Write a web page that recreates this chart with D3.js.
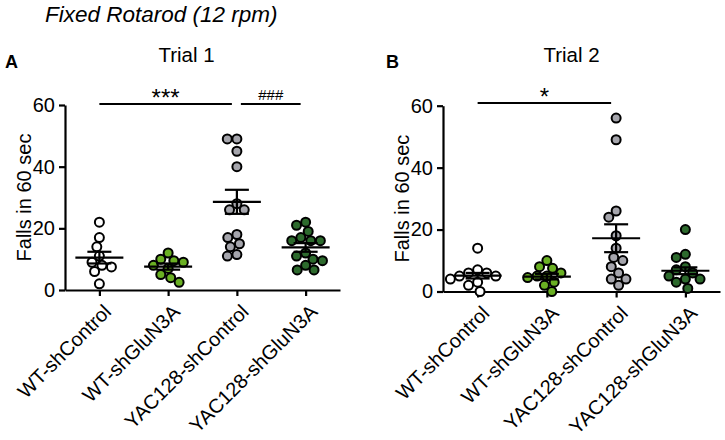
<!DOCTYPE html>
<html>
<head>
<meta charset="utf-8">
<script src="https://cdn.jsdelivr.net/npm/d3@7"></script>
<style>
  body { margin: 0; background: #fff; }
  text { font-family: Arial, "Liberation Sans", sans-serif; fill: #000; }
</style>
</head>
<body>
<div id="chart"></div>
<script>
// groups and colours
var groups = ['WT-shControl', 'WT-shGluN3A', 'YAC128-shControl', 'YAC128-shGluN3A']
var fills  = ['#ffffff', '#6ab023', '#a5a5ac', '#2d6a2d']
var yTicks = [0, 20, 40, 60]

// Trial 1 falls per animal
var trial1 = [
  [22, 17, 14, 11, 9, 8, 7.5, 6, 2],
  [12, 10, 9.5, 9, 8, 7, 5, 4, 2.5],
  [49, 49, 45, 40, 28, 26, 26, 17, 15, 14, 18, 11, 11.5],
  [22, 21, 19, 17, 16, 16, 16, 12, 11, 10, 9.5, 8, 6.5, 6.5]
]
var trial1Mean = [10.5, 7.6, 28.6, 13.8]
var trial1Sem  = [1.9, 1.0, 3.9, 1.4]

// Trial 2
var trial2 = [
  [14, 7, 6, 6, 5, 5, 4, 3, 2, 0],
  [10, 8, 7.5, 6, 5, 5, 4.5, 3, 2, 0],
  [56, 49, 26, 24, 18, 14, 11, 10, 8, 6, 4, 4, 2],
  [20, 12, 11, 8, 7, 6, 5, 4, 4, 3, 1]
]
var trial2Mean = [5.1, 4.8, 17.2, 6.7]
var trial2Sem  = [0.9, 0.9, 4.5, 1.1]

var sig1 = [{from: 0, to: 2, label: '***'}, {from: 2, to: 3, label: '###'}]
var sig2 = [{from: 0, to: 2, label: '*'}]

var svg = d3.select('#chart').append('svg').attr('width', 725).attr('height', 440)

svg.append('text').attr('x', 45).attr('y', 22)
  .style('font-size', '22.5px').style('font-style', 'italic')
  .text('Fixed Rotarod (12 rpm)')

// simple beeswarm, like the prism scatter layout
function swarm(values, y, r) {
  var placed = []
  var order = values.map((v, i) => i).sort((a, b) => values[b] - values[a])
  order.forEach(function(i) {
    var py = y(values[i])
    var near = placed.filter(p => Math.abs(p.y - py) < 2 * r)
    var cands = [0]
    near.forEach(function(p) {
      var dx = Math.sqrt(4 * r * r - (p.y - py) * (p.y - py))
      cands.push(p.x - dx, p.x + dx)
    })
    cands.sort((a, b) => Math.abs(a) - Math.abs(b))
    var best = cands.find(c => near.every(p => (p.x - c) * (p.x - c) + (p.y - py) * (p.y - py) >= 4 * r * r - 0.01))
    placed.push({x: best, y: py, v: values[i]})
  })
  return placed
}

function panel(opt) {
  var g = svg.append('g')
  var x = d3.scalePoint().domain(groups).range([opt.x0, opt.x1]).padding(0.5)
  var y = d3.scaleLinear().domain([0, 60]).range([opt.yBottom, opt.yTop])

  g.append('text').attr('x', opt.letterX).attr('y', 68)
    .style('font-size', '18px').style('font-weight', 'bold').text(opt.letter)
  g.append('text').attr('x', (opt.x0 + opt.x1) / 2 + opt.titleDx).attr('y', 62)
    .attr('text-anchor', 'middle').style('font-size', '20.5px').text(opt.title)

  var ya = g.append('g').attr('transform', 'translate(' + opt.x0 + ',0)')
    .call(d3.axisLeft(y).tickValues(yTicks).tickSize(6).tickSizeOuter(0).tickPadding(4))
  var xa = g.append('g').attr('transform', 'translate(0,' + opt.yBottom + ')')
    .call(d3.axisBottom(x).tickSize(6).tickSizeOuter(0).tickFormat(''))
  ;[ya, xa].forEach(function(a) {
    a.selectAll('path, line').attr('stroke', '#000').attr('stroke-width', 2.2)
    a.selectAll('text').style('font-size', '20px').style('font-family', 'Arial, "Liberation Sans", sans-serif')
  })

  // rotated group labels
  groups.forEach(function(name) {
    g.append('text')
      .attr('transform', 'translate(' + (x(name) + 13) + ',' + (opt.yBottom + 23) + ') rotate(-45)')
      .attr('text-anchor', 'end').style('font-size', '20px').text(name)
  })

  g.append('text')
    .attr('transform', 'translate(' + opt.yLabelX + ',' + ((opt.yTop + opt.yBottom) / 2) + ') rotate(-90)')
    .attr('text-anchor', 'middle').style('font-size', '20px').text('Falls in 60 sec')

  // points
  opt.data.forEach(function(vals, gi) {
    var pts = swarm(vals, y, 4.8)
    g.selectAll(null).data(pts).enter().append('circle')
      .attr('cx', d => x(groups[gi]) + d.x)
      .attr('cy', d => d.y)
      .attr('r', 4.5)
      .attr('fill', fills[gi])
      .attr('stroke', '#000')
      .attr('stroke-width', 2)
  })

  // mean +- sem
  groups.forEach(function(name, gi) {
    var cx = x(name), m = opt.mean[gi], s = opt.sem[gi]
    g.append('line').attr('x1', cx - 24).attr('x2', cx + 24).attr('y1', y(m)).attr('y2', y(m))
      .attr('stroke', '#000').attr('stroke-width', 2.2)
    g.append('line').attr('x1', cx).attr('x2', cx).attr('y1', y(m - s)).attr('y2', y(m + s))
      .attr('stroke', '#000').attr('stroke-width', 2.2)
    ;[m - s, m + s].forEach(function(v) {
      g.append('line').attr('x1', cx - 12).attr('x2', cx + 12).attr('y1', y(v)).attr('y2', y(v))
        .attr('stroke', '#000').attr('stroke-width', 2.2)
    })
  })

  // significance bars
  opt.sig.forEach(function(s) {
    var xa1 = x(groups[s.from]) + (s.from > 0 ? 4 : 0)
    var xa2 = x(groups[s.to]) - 5
    var hash = s.label[0] == '#'
    g.append('line').attr('x1', xa1).attr('x2', xa2).attr('y1', opt.sigY).attr('y2', opt.sigY)
      .attr('stroke', '#000').attr('stroke-width', 2)
    g.append('text').attr('x', (xa1 + xa2) / 2).attr('y', hash ? opt.sigY - 4 : opt.sigY + 2)
      .attr('text-anchor', 'middle')
      .style('font-size', hash ? '15px' : '24px')
      .text(s.label)
  })
}

panel({letter: 'A', letterX: 5, title: 'Trial 1', titleDx: -16, x0: 65, x1: 340, yTop: 105, yBottom: 290,
  yLabelX: 31, data: trial1, mean: trial1Mean, sem: trial1Sem, sig: sig1, sigY: 104})
panel({letter: 'B', letterX: 386, title: 'Trial 2', titleDx: -10, x0: 443, x1: 720, yTop: 105.7, yBottom: 291.5,
  yLabelX: 409, data: trial2, mean: trial2Mean, sem: trial2Sem, sig: sig2, sigY: 103})
</script>
</body>
</html>
